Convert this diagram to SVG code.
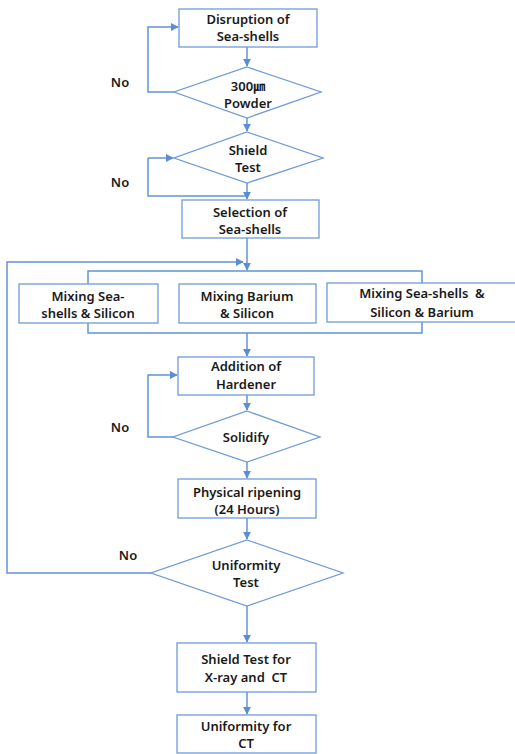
<svg xmlns="http://www.w3.org/2000/svg" width="515" height="754" viewBox="0 0 515 754">
<defs>
<style>
.box{fill:#fff;stroke:#6d9bd9;stroke-width:1.3}
.ln{fill:none;stroke:#6293d6;stroke-width:1.5}
.t{font-family:"Noto Sans","Liberation Sans",sans-serif;font-size:13px;font-weight:600;fill:#1a1a1a;text-anchor:middle}
.u{font-family:"Noto Sans","Noto Sans CJK KR",sans-serif;font-size:12px}
</style>
<marker id="ah" viewBox="0 0 10 10" refX="9" refY="5" markerWidth="8" markerHeight="8" markerUnits="userSpaceOnUse" orient="auto">
<path d="M0,0 L10,5 L0,10 z" fill="#5b8dd4"/>
</marker>
</defs>
<rect width="515" height="754" fill="#fff"/>
<g id="connectors">
<path class="ln" d="M247,47 V66" marker-end="url(#ah)"/>
<path class="ln" d="M174,92 H148 V27 H178" marker-end="url(#ah)"/>
<path class="ln" d="M247,118 V131" marker-end="url(#ah)"/>
<path class="ln" d="M148,158 H173" marker-end="url(#ah)"/>
<path class="ln" d="M148,158 V196 H247"/>
<path class="ln" d="M247,183 V199" marker-end="url(#ah)"/>
<path class="ln" d="M247,238 V270" marker-end="url(#ah)"/>
<path class="ln" d="M151,573 H7 V262 H243" marker-end="url(#ah)"/>
<path class="ln" d="M88,284 V271 H422 V333 H88 Z"/>
<path class="ln" d="M247,333 V356" marker-end="url(#ah)"/>
<path class="ln" d="M247,395 V410" marker-end="url(#ah)"/>
<path class="ln" d="M173,437 H148 V375 H177" marker-end="url(#ah)"/>
<path class="ln" d="M247,462 V478" marker-end="url(#ah)"/>
<path class="ln" d="M247,518 V539" marker-end="url(#ah)"/>
<path class="ln" d="M247,606 V642" marker-end="url(#ah)"/>
<path class="ln" d="M247,692 V714" marker-end="url(#ah)"/>
<text class="t" x="120" y="87">No</text>
<text class="t" x="120" y="187">No</text>
<text class="t" x="120" y="432">No</text>
<text class="t" x="128" y="560">No</text>
</g>
<g id="n1">
<rect class="box" x="179" y="9" width="138" height="38"/>
<text class="t" x="248" y="24">Disruption of</text>
<text class="t" x="248" y="41">Sea-shells</text>
</g>
<g id="n2">
<polygon class="box" points="247,67 321,92 247,118 174,92"/>
<text class="t" x="248" y="91"><tspan>300</tspan><tspan class="u">㎛</tspan></text>
<text class="t" x="248" y="108">Powder</text>
</g>
<g id="n3">
<polygon class="box" points="247,132 323,158 247,183 174,158"/>
<text class="t" x="248" y="155">Shield</text>
<text class="t" x="248" y="172">Test</text>
</g>
<g id="n4">
<rect class="box" x="182" y="200" width="137" height="38"/>
<text class="t" x="250" y="217">Selection of</text>
<text class="t" x="250" y="234">Sea-shells</text>
</g>
<g id="n5">
<rect class="box" x="19" y="284" width="139" height="39"/>
<text class="t" x="88" y="301">Mixing Sea-</text>
<text class="t" x="88" y="318">shells &amp; Silicon</text>
</g>
<g id="n6">
<rect class="box" x="179" y="284" width="137" height="39"/>
<text class="t" x="247" y="301">Mixing Barium</text>
<text class="t" x="247" y="318">&amp; Silicon</text>
</g>
<g id="n7">
<rect class="box" x="327" y="283" width="190" height="39"/>
<text class="t" x="422" y="298" xml:space="preserve">Mixing Sea-shells  &amp;</text>
<text class="t" x="422" y="317">Silicon &amp; Barium</text>
</g>
<g id="n8">
<rect class="box" x="178" y="357" width="136" height="38"/>
<text class="t" x="246" y="371">Addition of</text>
<text class="t" x="246" y="389">Hardener</text>
</g>
<g id="n9">
<polygon class="box" points="247,411 320,437 247,462 173,437"/>
<text class="t" x="246" y="442">Solidify</text>
</g>
<g id="n10">
<rect class="box" x="178" y="479" width="138" height="39"/>
<text class="t" x="247" y="497">Physical ripening</text>
<text class="t" x="247" y="514">(24 Hours)</text>
</g>
<g id="n11">
<polygon class="box" points="247,540 343,573 247,606 151,573"/>
<text class="t" x="246" y="570">Uniformity</text>
<text class="t" x="246" y="587">Test</text>
</g>
<g id="n12">
<rect class="box" x="177" y="643" width="139" height="49"/>
<text class="t" x="246" y="664">Shield Test for</text>
<text class="t" x="246" y="682" xml:space="preserve">X-ray and  CT</text>
</g>
<g id="n13">
<rect class="box" x="177" y="715" width="139" height="38"/>
<text class="t" x="246" y="731">Uniformity for</text>
<text class="t" x="246" y="748">CT</text>
</g>
</svg>
